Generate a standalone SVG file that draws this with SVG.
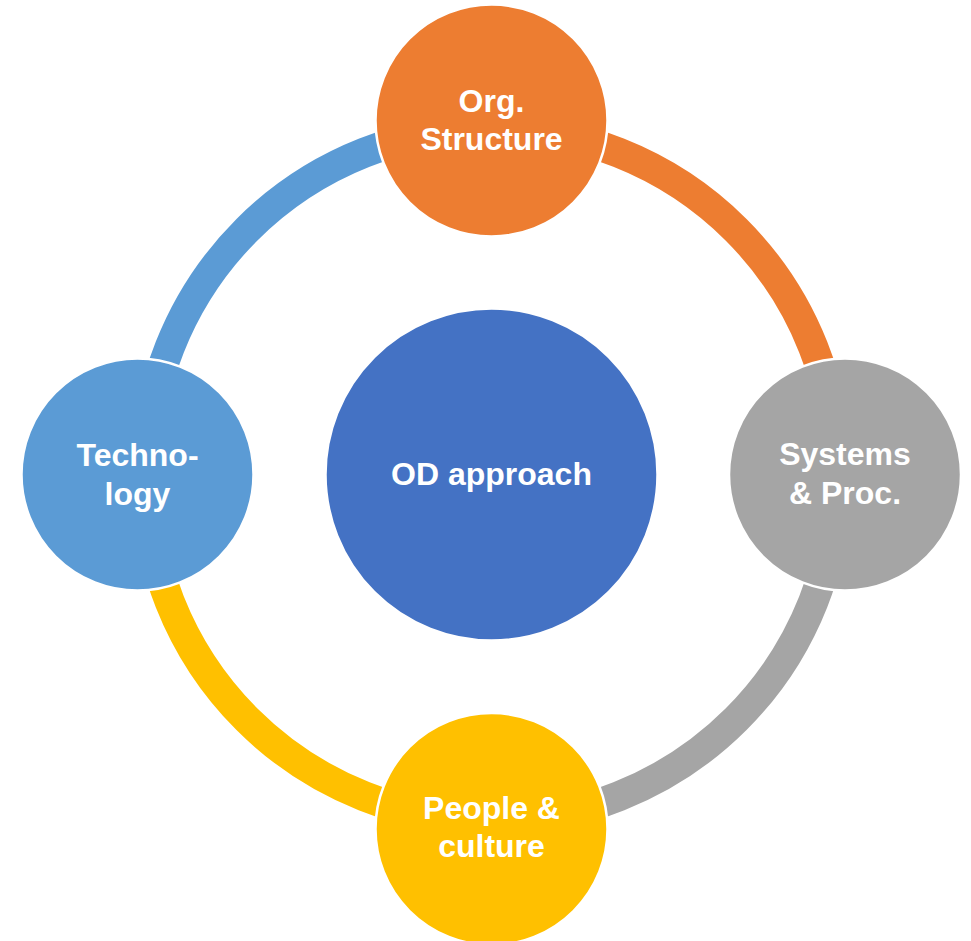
<svg xmlns="http://www.w3.org/2000/svg" width="971" height="941" viewBox="0 0 971 941">
<style>
.arc{fill:none;stroke-width:30;stroke-linecap:butt}
.node{stroke:#fff;stroke-width:2.5}
.lbl{font-family:"Liberation Sans",Arial,sans-serif;font-weight:700;font-size:32px;fill:#fff;text-anchor:middle}
</style>
<rect width="971" height="941" fill="#fff"/>
<g id="connectors">
<path class="arc" stroke="#ED7D31" d="M 491.5 128.5 A 346 346 0 0 1 837.5 474.5"/>
<path class="arc" stroke="#A5A5A5" d="M 837.5 474.5 A 346 346 0 0 1 491.5 820.5"/>
<path class="arc" stroke="#FFC000" d="M 491.5 820.5 A 346 346 0 0 1 145.5 474.5"/>
<path class="arc" stroke="#5B9BD5" d="M 145.5 474.5 A 346 346 0 0 1 491.5 128.5"/>
</g>
<g id="center">
<circle class="node" cx="491.5" cy="474.5" r="166" fill="#4472C4"/>
<text class="lbl" x="491.5" y="485">OD approach</text>
</g>
<g id="org">
<circle class="node" cx="491.5" cy="120.5" r="116" fill="#ED7D31"/>
<text class="lbl" x="491.5" y="112">Org.</text>
<text class="lbl" x="491.5" y="150">Structure</text>
</g>
<g id="systems">
<circle class="node" cx="845" cy="474.5" r="116" fill="#A5A5A5"/>
<text class="lbl" x="845" y="465">Systems</text>
<text class="lbl" x="845" y="504">&amp; Proc.</text>
</g>
<g id="people">
<circle class="node" cx="491.5" cy="829" r="116" fill="#FFC000"/>
<text class="lbl" x="491.5" y="819">People &amp;</text>
<text class="lbl" x="491.5" y="857">culture</text>
</g>
<g id="technology">
<circle class="node" cx="137.5" cy="474.5" r="116" fill="#5B9BD5"/>
<text class="lbl" x="137.5" y="466">Techno-</text>
<text class="lbl" x="137.5" y="505">logy</text>
</g>
</svg>
